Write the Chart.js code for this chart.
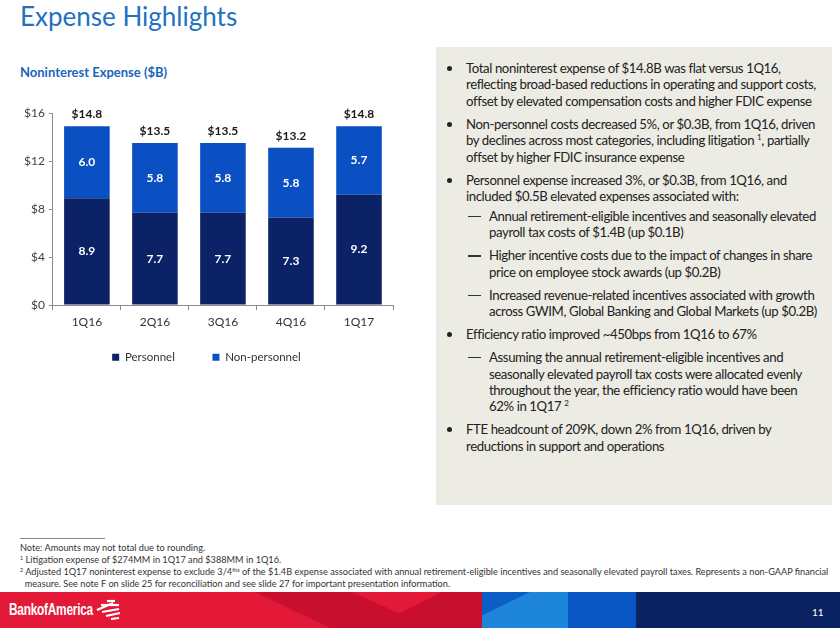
<!DOCTYPE html>
<html>
<head>
<meta charset="utf-8">
<script src="https://cdn.jsdelivr.net/npm/chart.js@4.4.1/dist/chart.umd.min.js"></script>
<style>
  html, body { margin: 0; padding: 0; background: #fff; }
  body { width: 840px; height: 628px; position: relative; overflow: hidden; font-family: Lato, "Open Sans", sans-serif; color: #222; }
  #title { position: absolute; left: 20px; top: 0px; font-size: 26px; color: #1f72c1; }
  #subtitle { position: absolute; left: 20px; top: 64px; font-size: 13px; font-weight: bold; color: #1a66bb; }
  #chartBox { position: absolute; left: 0; top: 95px; width: 420px; height: 278px; }
  #panel { position: absolute; left: 436px; top: 47px; width: 396px; height: 458px; background: #ecebe4; }
  #panel ul { list-style: none; margin: 0; padding: 0; position: absolute; left: 0; top: 13px; }
  #panel li { position: relative; font-size: 13.2px; letter-spacing: -0.4px; line-height: 16.4px; white-space: nowrap; margin-top: 6.6px; color: #222; }
  #panel li:first-child { margin-top: 0; }
  #panel li.b { padding-left: 30px; }
  #panel li.b::before { content: ""; position: absolute; left: 11px; top: 6px; width: 5px; height: 5px; border-radius: 50%; background: #222; }
  #panel li.s { padding-left: 53px; }
  #panel li.s::before { content: ""; position: absolute; left: 32px; top: 8px; width: 13px; height: 1.2px; background: #333; }
  #panel li.tight { margin-top: 3.5px; }
  sup { font-size: 8px; line-height: 0; vertical-align: 5px; }
  #rule { position: absolute; left: 20px; top: 538px; width: 85px; height: 1px; background: #888; }
  #notes { position: absolute; left: 20px; top: 542px; font-size: 9.2px; line-height: 12px; color: #333; white-space: nowrap; }
  #notes sup { font-size: 5.5px; vertical-align: 3px; }
  #footer { position: absolute; left: 0; top: 592px; width: 840px; height: 36px; overflow: hidden; }
  #footer div { position: absolute; top: 0; height: 36px; }
  #brand { position: absolute; left: 9px; top: 601px; font-family: "Liberation Sans", Arial, sans-serif; font-weight: bold; font-size: 16px; color: #fff; letter-spacing: -0.3px; transform: scaleX(0.74); transform-origin: left top; }
  #flag { position: absolute; left: 93px; top: 599px; }
  #page { position: absolute; left: 812px; top: 606px; font-size: 10px; color: #fff; }
</style>
</head>
<body>
<div id="title">Expense Highlights</div>
<div id="subtitle">Noninterest Expense ($B)</div>
<div id="chartBox"><canvas id="chart"></canvas></div>

<div id="panel">
  <ul>
    <li class="b">Total noninterest expense of $14.8B was flat versus 1Q16,<br>reflecting broad-based reductions in operating and support costs,<br>offset by elevated compensation costs and higher FDIC expense</li>
    <li class="b">Non-personnel costs decreased 5%, or $0.3B, from 1Q16, driven<br>by declines across most categories, including litigation <sup>1</sup>, partially<br>offset by higher FDIC insurance expense</li>
    <li class="b">Personnel expense increased 3%, or $0.3B, from 1Q16, and<br>included $0.5B elevated expenses associated with:</li>
    <li class="s tight">Annual retirement-eligible incentives and seasonally elevated<br>payroll tax costs of $1.4B (up $0.1B)</li>
    <li class="s">Higher incentive costs due to the impact of changes in share<br>price on employee stock awards (up $0.2B)</li>
    <li class="s">Increased revenue-related incentives associated with growth<br>across GWIM, Global Banking and Global Markets (up $0.2B)</li>
    <li class="b">Efficiency ratio improved ~450bps from 1Q16 to 67%</li>
    <li class="s">Assuming the annual retirement-eligible incentives and<br>seasonally elevated payroll tax costs were allocated evenly<br>throughout the year, the efficiency ratio would have been<br>62% in 1Q17 <sup>2</sup></li>
    <li class="b">FTE headcount of 209K, down 2% from 1Q16, driven by<br>reductions in support and operations</li>
  </ul>
</div>

<div id="rule"></div>
<div id="notes">
  Note: Amounts may not total due to rounding.<br>
  <sup>1</sup> Litigation expense of $274MM in 1Q17 and $388MM in 1Q16.<br>
  <sup>2</sup> Adjusted 1Q17 noninterest expense to exclude 3/4<sup>ths</sup> of the $1.4B expense associated with annual retirement-eligible incentives and seasonally elevated payroll taxes. Represents a non-GAAP financial<br>
  &nbsp;&nbsp;measure. See note F on slide 25 for reconciliation and see slide 27 for important presentation information.
</div>

<div id="footer">
  <div style="left:0;width:482px;background:#e31937;"></div>
  <div style="left:255px;width:227px;background:#c8102e;clip-path:polygon(0 0,100% 0,100% 100%,33% 100%);"></div>
  <div style="left:352px;width:90px;background:#e31937;clip-path:polygon(0 0,100% 0,53% 60%);"></div>
  <div style="left:482px;width:86px;background:#1d85da;"></div>
  <div style="left:482px;width:48px;background:#0a5ec6;clip-path:polygon(0 0,100% 0,0 65%);"></div>
  <div style="left:568px;width:68px;background:#0a55c4;"></div>
  <div style="left:636px;width:204px;background:#0b2262;"></div>
</div>
<div id="brand">BankofAmerica</div>
<svg id="flag" width="30" height="22" viewBox="0 0 30 22">
  <g stroke="#fff" stroke-width="2.2" fill="none">
    <path d="M14 2 L22 2"/>
    <path d="M8 6 L26 6"/>
    <path d="M4 11 L20 4"/>
    <path d="M9 13 L26 10"/>
    <path d="M13 17 L27 14"/>
    <path d="M18 20 L26 19"/>
  </g>
</svg>
<div id="page">11</div>

<script>
  // chart data
  var quarters = ["1Q16", "2Q16", "3Q16", "4Q16", "1Q17"];
  var personnel = [8.9, 7.7, 7.7, 7.3, 9.2];
  var nonPersonnel = [6.0, 5.8, 5.8, 5.8, 5.7];
  var totals = [14.8, 13.5, 13.5, 13.2, 14.8];
  var yTicks = [0, 4, 8, 12, 16];

  var navy = "#0c2266";
  var blue = "#0a50c2";

  // value labels inside the bars and totals on top
  var valueLabels = {
    id: "valueLabels",
    afterDatasetsDraw: function(chart) {
      var ctx = chart.ctx;
      ctx.save();
      ctx.textAlign = "center";
      ctx.textBaseline = "middle";
      ctx.font = "bold 12px Lato";
      chart.data.datasets.forEach(function(ds, i) {
        var meta = chart.getDatasetMeta(i);
        meta.data.forEach(function(bar, j) {
          ctx.fillStyle = "#ffffff";
          ctx.fillText(ds.data[j].toFixed(1), bar.x, (bar.y + bar.base) / 2);
        });
      });
      var topMeta = chart.getDatasetMeta(1);
      topMeta.data.forEach(function(bar, j) {
        ctx.fillStyle = "#1a1a1a";
        ctx.fillText("$" + totals[j].toFixed(1), bar.x, bar.y - 12);
      });
      ctx.restore();
    }
  };

  var canvas = document.getElementById("chart");
  var contexto = canvas.getContext("2d");

  var grafico = new Chart(contexto, {
    type: "bar",
    data: {
      labels: quarters,
      datasets: [
        { label: "Personnel", data: personnel, backgroundColor: navy, barPercentage: 0.67, categoryPercentage: 1 },
        { label: "Non-personnel", data: nonPersonnel, backgroundColor: blue, barPercentage: 0.67, categoryPercentage: 1 }
      ]
    },
    options: {
      responsive: true,
      maintainAspectRatio: false,
      animation: false,
      layout: { padding: { left: 20, right: 27, top: 18, bottom: 0 } },
      plugins: {
        tooltip: { enabled: false },
        legend: {
          position: "bottom",
          labels: {
            boxWidth: 7,
            boxHeight: 7,
            padding: 17,
            color: "#333",
            font: { family: "Lato", size: 11.5 },
            generateLabels: function(chart) {
              var items = Chart.defaults.plugins.legend.labels.generateLabels(chart);
              // wider gap after the first entry
              items[0].text = items[0].text + "\u00a0\u00a0\u00a0\u00a0\u00a0\u00a0\u00a0";
              return items;
            }
          }
        }
      },
      scales: {
        x: {
          stacked: true,
          grid: { display: true, drawOnChartArea: false, drawTicks: true, tickLength: 5, color: "#8c8c8c" },
          border: { color: "#8c8c8c" },
          ticks: { color: "#333", font: { family: "Lato", size: 12 }, padding: 5 }
        },
        y: {
          stacked: true,
          min: 0,
          max: 16,
          afterBuildTicks: function(axis) {
            axis.ticks = yTicks.map(function(v) { return { value: v }; });
          },
          grid: { display: true, drawOnChartArea: false, drawTicks: true, tickLength: 4, color: "#8c8c8c" },
          border: { color: "#8c8c8c" },
          ticks: {
            color: "#404040",
            font: { family: "Lato", size: 12 },
            padding: 4,
            callback: function(v) { return "$" + v; }
          }
        }
      }
    },
    plugins: [valueLabels]
  });
</script>
</body>
</html>
